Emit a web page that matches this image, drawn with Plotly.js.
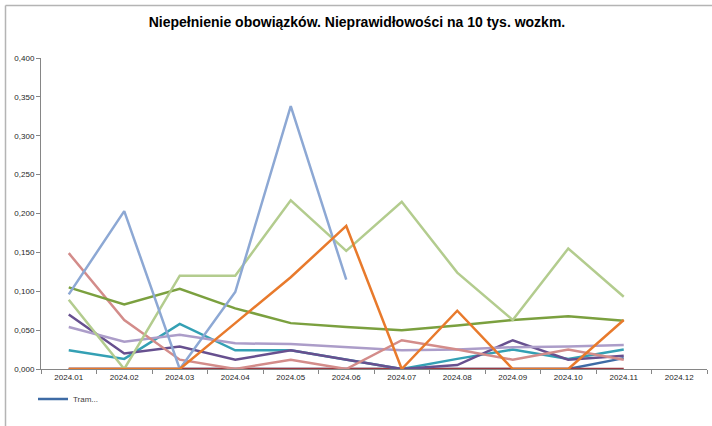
<!DOCTYPE html>
<html>
<head>
<meta charset="utf-8">
<script src="https://cdn.plot.ly/plotly-3.0.1.min.js"></script>
<style>html,body{margin:0;padding:0;background:#fff;}#chart{width:712px;height:426px;}</style>
</head>
<body>
<div id="chart"></div>
<script>
const categories = ['2024.01','2024.02','2024.03','2024.04','2024.05','2024.06','2024.07','2024.08','2024.09','2024.10','2024.11','2024.12'];
const titleText = 'Niepełnienie obowiązków. Nieprawidłowości na 10 tys. wozkm.';

const tram        = [0, 0, 0, 0, 0, 0, 0, 0, 0, 0, 0.014, null];
const maroon      = [0, 0, 0, 0, 0, 0, 0, 0, 0, 0, 0, null];
const teal        = [0.024, 0.013, 0.058, 0.024, 0.024, 0.012, 0, 0.013, 0.025, 0.013, 0.025, null];
const purple      = [0.070, 0.020, 0.029, 0.012, 0.024, 0.012, 0, 0.005, 0.037, 0.012, 0.017, null];
const lavender    = [0.054, 0.035, 0.044, 0.033, 0.032, 0.028, 0.024, 0.025, 0.028, 0.029, 0.031, null];
const pink        = [0.149, 0.063, 0.012, 0, 0.012, 0, 0.037, 0.025, 0.012, 0.025, 0.012, null];
const green       = [0.105, 0.083, 0.103, 0.078, 0.059, 0.054, 0.050, 0.056, 0.063, 0.068, 0.062, null];
const lightGreen  = [0.089, 0, 0.120, 0.120, 0.217, 0.152, 0.215, 0.124, 0.063, 0.155, 0.093, null];
const lightBlue   = [0.096, 0.203, 0, 0.099, 0.338, 0.115, null, null, null, null, null, null];
const orange      = [0, 0, 0, 0.059, 0.118, 0.184, 0, 0.075, 0, 0, 0.063, null];

const seriesList = [
  {name: 'Tram...', y: tram, color: '#3E6BA5', legend: true},
  {name: 's2', y: maroon, color: '#9B3A42'},
  {name: 's3', y: teal, color: '#34A0B4'},
  {name: 's4', y: purple, color: '#67508F'},
  {name: 's5', y: lavender, color: '#AC9DC9'},
  {name: 's6', y: pink, color: '#D38C8A'},
  {name: 's7', y: green, color: '#7BA03F'},
  {name: 's8', y: lightGreen, color: '#B3CC8E'},
  {name: 's9', y: lightBlue, color: '#8DA8D4'},
  {name: 's10', y: orange, color: '#E87A2C'}
];

const traces = seriesList.map(s => ({
  type: 'scatter', mode: 'lines', x: categories, y: s.y, name: s.name,
  line: {color: s.color, width: 2.5}, showlegend: !!s.legend, connectgaps: false,
  hoverinfo: 'skip'
}));

const L = 41, R = 5, T = 58, B = 57;
const W = 712, H = 426;
const pw = W - L - R, ph = H - T - B;
const px2x = p => (p - L) / pw;
const py2y = p => (H - B - p) / ph;

const layout = {
  width: W, height: H,
  margin: {l: L, r: R, t: T, b: B, pad: 0},
  paper_bgcolor: '#ffffff', plot_bgcolor: '#ffffff',
  separators: ', ',
  font: {family: 'Liberation Sans, Arial, sans-serif', size: 8, color: '#262626'},
  title: {text: '<b>' + titleText + '</b>', font: {size: 14, color: '#000000'}, x: 357 / W, xref: 'container', xanchor: 'center', y: 1 - 22 / H, yanchor: 'middle'},
  xaxis: {
    type: 'category', range: [-0.5, 11.5], tickson: 'boundaries',
    ticks: 'outside', ticklen: 4, tickcolor: '#868686', tickwidth: 1,
    showline: true, linecolor: '#868686', linewidth: 1, showgrid: false, zeroline: false,
    tickfont: {size: 8, color: '#262626'}, fixedrange: true
  },
  yaxis: {
    range: [0, 0.4], dtick: 0.05, tick0: 0, tickformat: '.3f',
    ticks: 'outside', ticklen: 4, tickcolor: '#868686', tickwidth: 1,
    showline: true, linecolor: '#868686', linewidth: 1, showgrid: false, zeroline: false,
    tickfont: {size: 8, color: '#262626'}, fixedrange: true
  },
  showlegend: true,
  legend: {
    orientation: 'h', x: px2x(33), xanchor: 'left', y: py2y(399), yanchor: 'middle',
    font: {size: 8, color: '#404040'}, bgcolor: 'rgba(0,0,0,0)', itemwidth: 30, tracegroupgap: 0
  },
  shapes: [
    {type: 'line', xref: 'paper', yref: 'paper', x0: px2x(5.5), x1: px2x(5.5), y0: py2y(5.5), y1: py2y(440), line: {color: '#B4B4B4', width: 1.5}},
    {type: 'line', xref: 'paper', yref: 'paper', x0: px2x(5.5), x1: px2x(730), y0: py2y(5.5), y1: py2y(5.5), line: {color: '#B4B4B4', width: 1.5}}
  ]
};

Plotly.newPlot('chart', traces, layout, {displayModeBar: false, staticPlot: true});
</script>
</body>
</html>
